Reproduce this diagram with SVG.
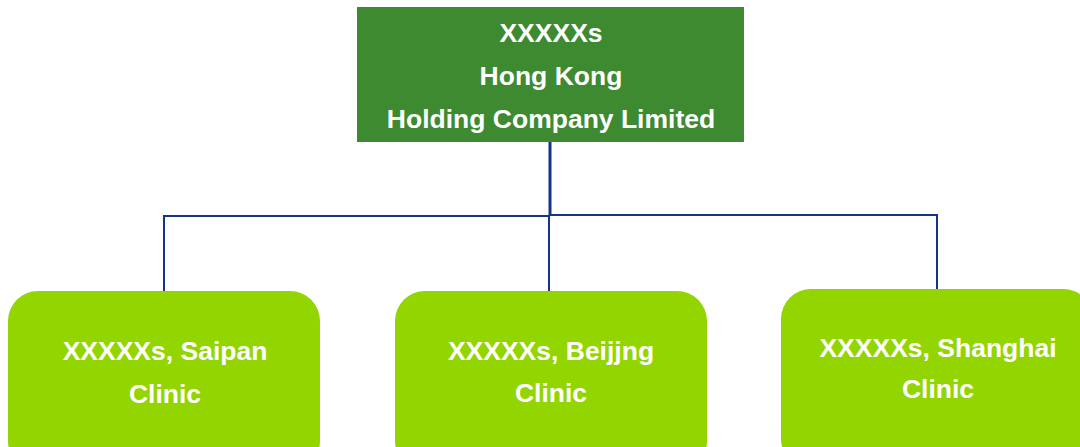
<svg xmlns="http://www.w3.org/2000/svg" width="1080" height="447" viewBox="0 0 1080 447">
<style>
.t{font-family:"Liberation Sans",Arial,sans-serif;font-weight:bold;font-size:26.5px;fill:#fff;text-anchor:middle}
.c{fill:#93d500}
.ln{stroke:#14348a;stroke-width:2;fill:none}
</style>
<rect width="1080" height="447" fill="#fff"/>
<g id="connectors">
<line class="ln" x1="550" y1="142" x2="550" y2="216" style="stroke-width:3"/>
<polyline class="ln" points="164,291 164,216 550,216"/>
<polyline class="ln" points="550,215 937,215 937,289"/>
<line class="ln" x1="549" y1="216" x2="549" y2="291"/>
</g>
<g id="root">
<rect x="357" y="7" width="387" height="135" fill="#3d8a31"/>
<text class="t" x="551" y="42">XXXXXs</text>
<text class="t" x="551" y="85">Hong Kong</text>
<text class="t" x="551" y="128">Holding Company Limited</text>
</g>
<g id="saipan">
<rect class="c" x="8" y="291" width="312" height="180" rx="30"/>
<text class="t" x="165" y="360">XXXXXs, Saipan</text>
<text class="t" x="165" y="403">Clinic</text>
</g>
<g id="beijing">
<rect class="c" x="395" y="291" width="312" height="180" rx="30"/>
<text class="t" x="551" y="360">XXXXXs, Beijjng</text>
<text class="t" x="551" y="402">Clinic</text>
</g>
<g id="shanghai">
<rect class="c" x="781" y="289" width="312" height="180" rx="30"/>
<text class="t" x="938" y="357">XXXXXs, Shanghai</text>
<text class="t" x="938" y="398">Clinic</text>
</g>
</svg>
